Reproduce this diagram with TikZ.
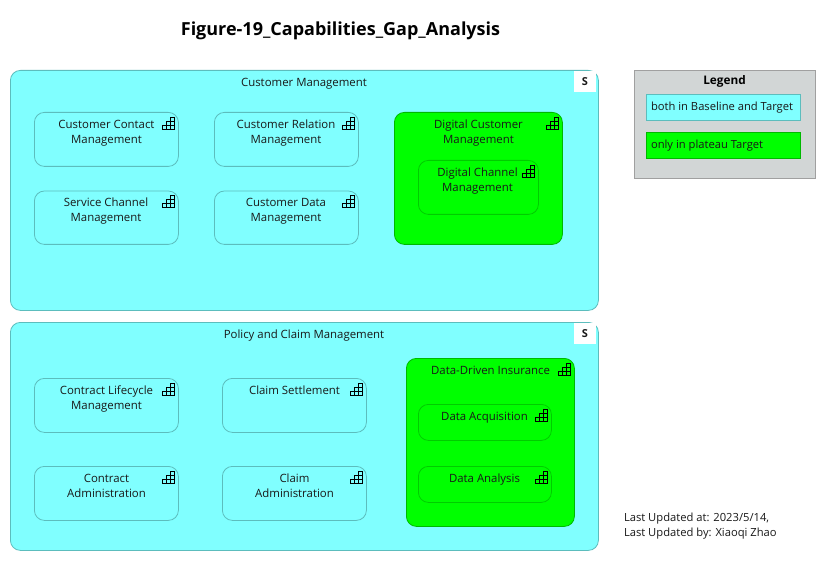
\documentclass[tikz,border=0pt]{standalone}
\usepackage{fontspec}
\setmainfont{Open Sans}
\definecolor{cyanfill}{HTML}{80FFFF}
\definecolor{cyanline}{HTML}{5CBDBD}
\definecolor{greenfill}{HTML}{00FF00}
\definecolor{greenline}{HTML}{00B800}
\definecolor{greeninner}{HTML}{00CC00}
\definecolor{legendfill}{HTML}{D2D6D6}
\definecolor{legendline}{HTML}{A0A0A0}
\tikzset{
  x=1pt,y=-1pt,
  every node/.style={inner sep=0pt,outer sep=0pt,font=\fontsize{11.4}{15}\selectfont,text=black!90},
  boxbase/.style={anchor=north west,line width=0.8pt,rounded corners=#1},
  boxbase/.default=10pt,
  cyanbox/.style={boxbase,draw=cyanline,fill=cyanfill},
  greenbox/.style={boxbase,draw=greenline,fill=greenfill},
  innergreen/.style={boxbase,draw=greeninner,fill=greenfill},
  txt/.style={align=center,anchor=north},
  sbadge/.style={anchor=north west,fill=white,minimum width=22pt,minimum height=21pt,font=\bfseries\fontsize{11}{12}\selectfont},
  legendbox/.style={anchor=north west,minimum width=154pt,minimum height=26pt,line width=0.8pt},
  legendtext/.style={anchor=west,font=\fontsize{11.2}{15}\selectfont}
}
\newcommand{\stairs}[2]{%
  \begin{scope}[shift={(#1,#2)},line width=0.7pt,black]
    \draw (0,12) -- (0,8) -- (4,8) -- (4,4) -- (8,4) -- (8,0) -- (12,0) -- (12,12) -- cycle;
    \draw (0,8) -- (12,8) (4,8) -- (4,12) (8,4) -- (8,12) (8,4) -- (12,4);
  \end{scope}}
\newcommand{\capbox}[9]{%
  \node[#2,minimum width=#5pt,minimum height=#6pt] (#1) at ({#3+0.4},{#4+0.4}) {};
  \node[txt] (#1text) at (#8,{#9+1.6}) {\strut #7};}
\begin{document}
\begin{tikzpicture}
\useasboundingbox (0,0) rectangle (840,561);
\fill[white] (0,0) rectangle (840,561);
\node[font=\bfseries\fontsize{18}{20}\selectfont,text=black] (title) at (340.5,31) {Figure-19\_Capabilities\_Gap\_Analysis};

% Customer Management
\capbox{cm}{cyanbox}{10}{70}{588}{240}{Customer Management}{304}{74}
\node[sbadge] (cmS) at (574,71) {S};
\capbox{a1}{cyanbox}{34}{112}{144}{54}{Customer Contact\\Management}{106.5}{116}
\stairs{162.5}{117.5}
\capbox{a2}{cyanbox}{214}{112}{144}{54}{Customer Relation\\Management}{286}{116}
\stairs{342.5}{117.5}
\capbox{a3}{cyanbox}{34}{190.6}{144}{53.4}{Service Channel\\Management}{106}{194}
\stairs{162.5}{195.5}
\capbox{a4}{cyanbox}{214}{190.6}{144}{53.4}{Customer Data\\Management}{286}{194}
\stairs{342.5}{195.5}
\capbox{dc}{greenbox}{394}{112}{168}{132}{Digital Customer\\Management}{478.5}{116}
\stairs{546}{117.5}
\capbox{dch}{innergreen}{418}{160}{120}{54}{Digital Channel\\Management}{477.5}{164}
\stairs{522}{165.5}

% Policy and Claim Management
\capbox{pc}{cyanbox}{10}{322}{588}{228}{Policy and Claim Management}{304}{326}
\node[sbadge] (pcS) at (574,323) {S};
\capbox{b1}{cyanbox}{34}{378}{144}{54}{Contract Lifecycle\\Management}{106.5}{382}
\stairs{162.5}{383.5}
\capbox{b2}{cyanbox}{222}{378}{144}{54}{Claim Settlement}{294.5}{382}
\stairs{350.5}{383.5}
\capbox{b3}{cyanbox}{34}{466}{144}{54}{Contract\\Administration}{106.5}{470}
\stairs{162.5}{471.5}
\capbox{b4}{cyanbox}{222}{466}{144}{54}{Claim\\Administration}{294.5}{470}
\stairs{350.5}{471.5}
\capbox{dd}{greenbox}{406}{358}{168}{168}{Data-Driven Insurance}{490.5}{362}
\stairs{558.5}{363.5}
\capbox{da}{innergreen}{418}{404}{133}{36}{Data Acquisition}{484.5}{408}
\stairs{535.5}{409.5}
\capbox{dn}{innergreen}{418}{466}{133}{36}{Data Analysis}{484.5}{470}
\stairs{535.5}{471.5}

% Legend
\node[anchor=north west,draw=legendline,fill=legendfill,line width=1pt,minimum width=181pt,minimum height=108pt] (legend) at (634.4,70.4) {};
\node[font=\bfseries\fontsize{11.8}{14}\selectfont,text=black] (legendtitle) at (724.5,81.5) {Legend};
\node[legendbox,draw=cyanline,fill=cyanfill] (l1) at (646.4,94.4) {};
\node[legendtext] (l1text) at (651,108) {both in Baseline and Target};
\node[legendbox,draw=greenline,fill=greenfill] (l2) at (646.4,132.4) {};
\node[legendtext] (l2text) at (651,146) {only in plateau Target};

% Footer
\node[anchor=north west,align=left,font=\fontsize{11.2}{15}\selectfont] (footer) at (624,512.8) {Last Updated at: 2023/5/14,\\Last Updated by: Xiaoqi Zhao};
\end{tikzpicture}
\end{document}
